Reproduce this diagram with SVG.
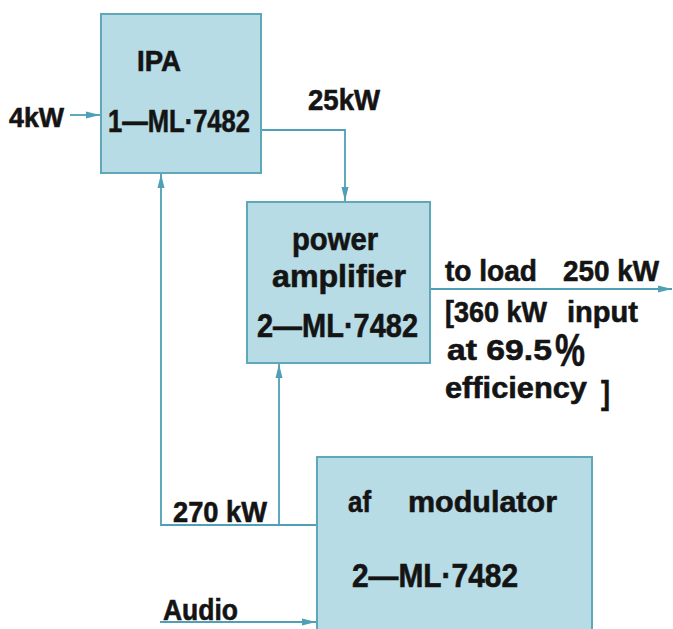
<svg xmlns="http://www.w3.org/2000/svg" width="673" height="629" viewBox="0 0 673 629">
<style>
.box{fill:#b7dce6;stroke:#5fa8ba;stroke-width:2}
.ln{fill:none;stroke:#4f9fb6;stroke-width:1.8}
text{font-family:"Liberation Sans",Arial,sans-serif;font-weight:bold;fill:#141414;stroke:#141414;stroke-width:0.6}
</style>
<defs>
<marker id="ah" viewBox="0 0 14 8" refX="14" refY="4" markerWidth="14" markerHeight="8" markerUnits="userSpaceOnUse" orient="auto">
<path d="M0,0.5 L14,4 L0,7.5 Z" fill="#4f9fb6"/>
</marker>
</defs>
<rect width="673" height="629" fill="#ffffff"/>
<g id="connectors">
<line class="ln" x1="70" y1="115" x2="100" y2="115" marker-end="url(#ah)"/>
<polyline class="ln" points="261,130 345,130 345,201" marker-end="url(#ah)"/>
<line class="ln" x1="430" y1="289" x2="672" y2="289" marker-end="url(#ah)"/>
<polyline class="ln" points="317,525 161,525 161,174" marker-end="url(#ah)"/>
<line class="ln" x1="279" y1="525" x2="279" y2="364" marker-end="url(#ah)"/>
<line class="ln" x1="160" y1="622" x2="316" y2="622" marker-end="url(#ah)"/>
</g>
<g id="ipa">
<rect class="box" x="101" y="14" width="160" height="159"/>
<text x="137" y="71" font-size="30" textLength="44" lengthAdjust="spacingAndGlyphs">IPA</text>
<text x="108" y="132" font-size="32" textLength="142" lengthAdjust="spacingAndGlyphs">1—ML·7482</text>
</g>
<g id="pa">
<rect class="box" x="247" y="202" width="183" height="161"/>
<text x="292" y="250" font-size="31" textLength="86" lengthAdjust="spacingAndGlyphs">power</text>
<text x="272" y="287" font-size="31" textLength="134" lengthAdjust="spacingAndGlyphs">amplifier</text>
<text x="257" y="337" font-size="34" textLength="161" lengthAdjust="spacingAndGlyphs">2—ML·7482</text>
</g>
<g id="mod">
<rect class="box" x="317" y="457" width="275" height="180"/>
<text x="348" y="512" font-size="30" textLength="23" lengthAdjust="spacingAndGlyphs">af</text>
<text x="408" y="512" font-size="30" textLength="149" lengthAdjust="spacingAndGlyphs">modulator</text>
<text x="352" y="587" font-size="33" textLength="166" lengthAdjust="spacingAndGlyphs">2—ML·7482</text>
</g>
<g id="labels">
<text x="9" y="127" font-size="28" textLength="55" lengthAdjust="spacingAndGlyphs">4kW</text>
<text x="308" y="110" font-size="30" textLength="72" lengthAdjust="spacingAndGlyphs">25kW</text>
<text x="445" y="281" font-size="30" textLength="92" lengthAdjust="spacingAndGlyphs">to load</text>
<text x="563" y="281" font-size="30" textLength="96" lengthAdjust="spacingAndGlyphs">250 kW</text>
<text x="445" y="322" font-size="30" textLength="102" lengthAdjust="spacingAndGlyphs">[360 kW</text>
<text x="567" y="322" font-size="30" textLength="71" lengthAdjust="spacingAndGlyphs">input</text>
<text x="447" y="360" font-size="30" textLength="105" lengthAdjust="spacingAndGlyphs">at 69.5</text>
<text x="555" y="366" font-size="46" textLength="30" lengthAdjust="spacingAndGlyphs">%</text>
<text x="445" y="398" font-size="30" textLength="142" lengthAdjust="spacingAndGlyphs">efficiency</text>
<text x="601" y="404" font-size="34" textLength="9" lengthAdjust="spacingAndGlyphs">]</text>
<text x="173" y="522" font-size="30" textLength="94" lengthAdjust="spacingAndGlyphs">270 kW</text>
<text x="163" y="620" font-size="30" textLength="75" lengthAdjust="spacingAndGlyphs">Audio</text>
</g>
</svg>
